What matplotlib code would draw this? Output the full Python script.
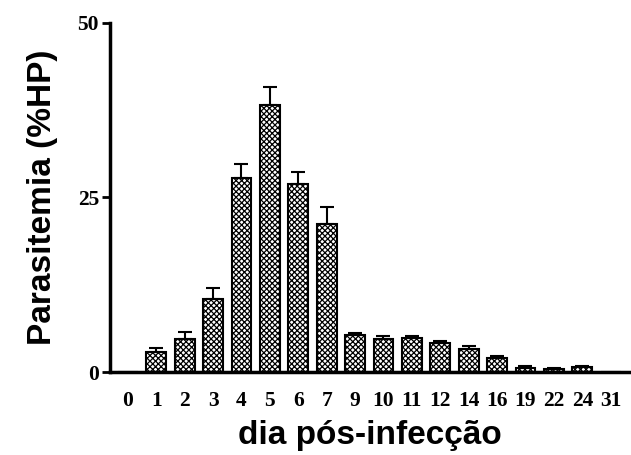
import numpy as np
import matplotlib
matplotlib.use("Agg")
import matplotlib.pyplot as plt

# dias pos-infeccao e parasitemia media (%HP) com erro padrao
dias = ["0", "1", "2", "3", "4", "5", "6", "7", "9", "10", "11", "12", "14", "16", "19", "22", "24", "31"]
media = [0, 2.9, 4.7, 10.5, 27.8, 38.3, 26.9, 21.2, 5.3, 4.7, 4.8, 4.1, 3.3, 2.0, 0.6, 0.5, 0.7, 0]
erro = [0, 0.5, 1.0, 1.6, 2.0, 2.6, 1.7, 2.4, 0.3, 0.4, 0.4, 0.3, 0.4, 0.3, 0.2, 0.1, 0.2, 0]

plt.rcParams['hatch.linewidth'] = 0.9

fig = plt.figure(figsize=(6.31, 4.55), dpi=100)
ax = fig.add_axes([110/631, (455-372)/455, 520/631, 349/455])

x = np.arange(len(dias))
ax.bar(x, media, width=0.7, color='white', edgecolor='black', linewidth=1.5, hatch='xxxxxx')
ax.errorbar(x[1:-1], media[1:-1], yerr=[np.zeros(len(x)-2), erro[1:-1]], fmt='none',
            ecolor='black', elinewidth=1.5, capsize=5, capthick=1.5)

ax.set_xlim(-0.63, 17.68)
ax.set_ylim(0, 50)
ax.set_yticks([0, 25, 50])
ax.set_xticks(x)
ax.set_xticklabels(dias)

for s in ['top', 'right']:
    ax.spines[s].set_visible(False)
ax.spines['left'].set_linewidth(2.5)
ax.spines['bottom'].set_linewidth(2.5)
ax.tick_params(axis='y', length=6, width=2, direction='out', pad=2)
ax.tick_params(axis='x', length=0, pad=14)
for lab in ax.get_xticklabels() + ax.get_yticklabels():
    lab.set_fontfamily('Liberation Serif')
    lab.set_fontweight('bold')
    lab.set_fontsize(15.5)

ax.set_ylabel("Parasitemia (%HP)", fontfamily='Liberation Sans', fontweight='bold', fontsize=24, labelpad=14)
ax.set_xlabel("dia pós-infecção", fontfamily='Liberation Sans', fontweight='bold', fontsize=24, labelpad=6)

fig.savefig("out.png", dpi=100)
